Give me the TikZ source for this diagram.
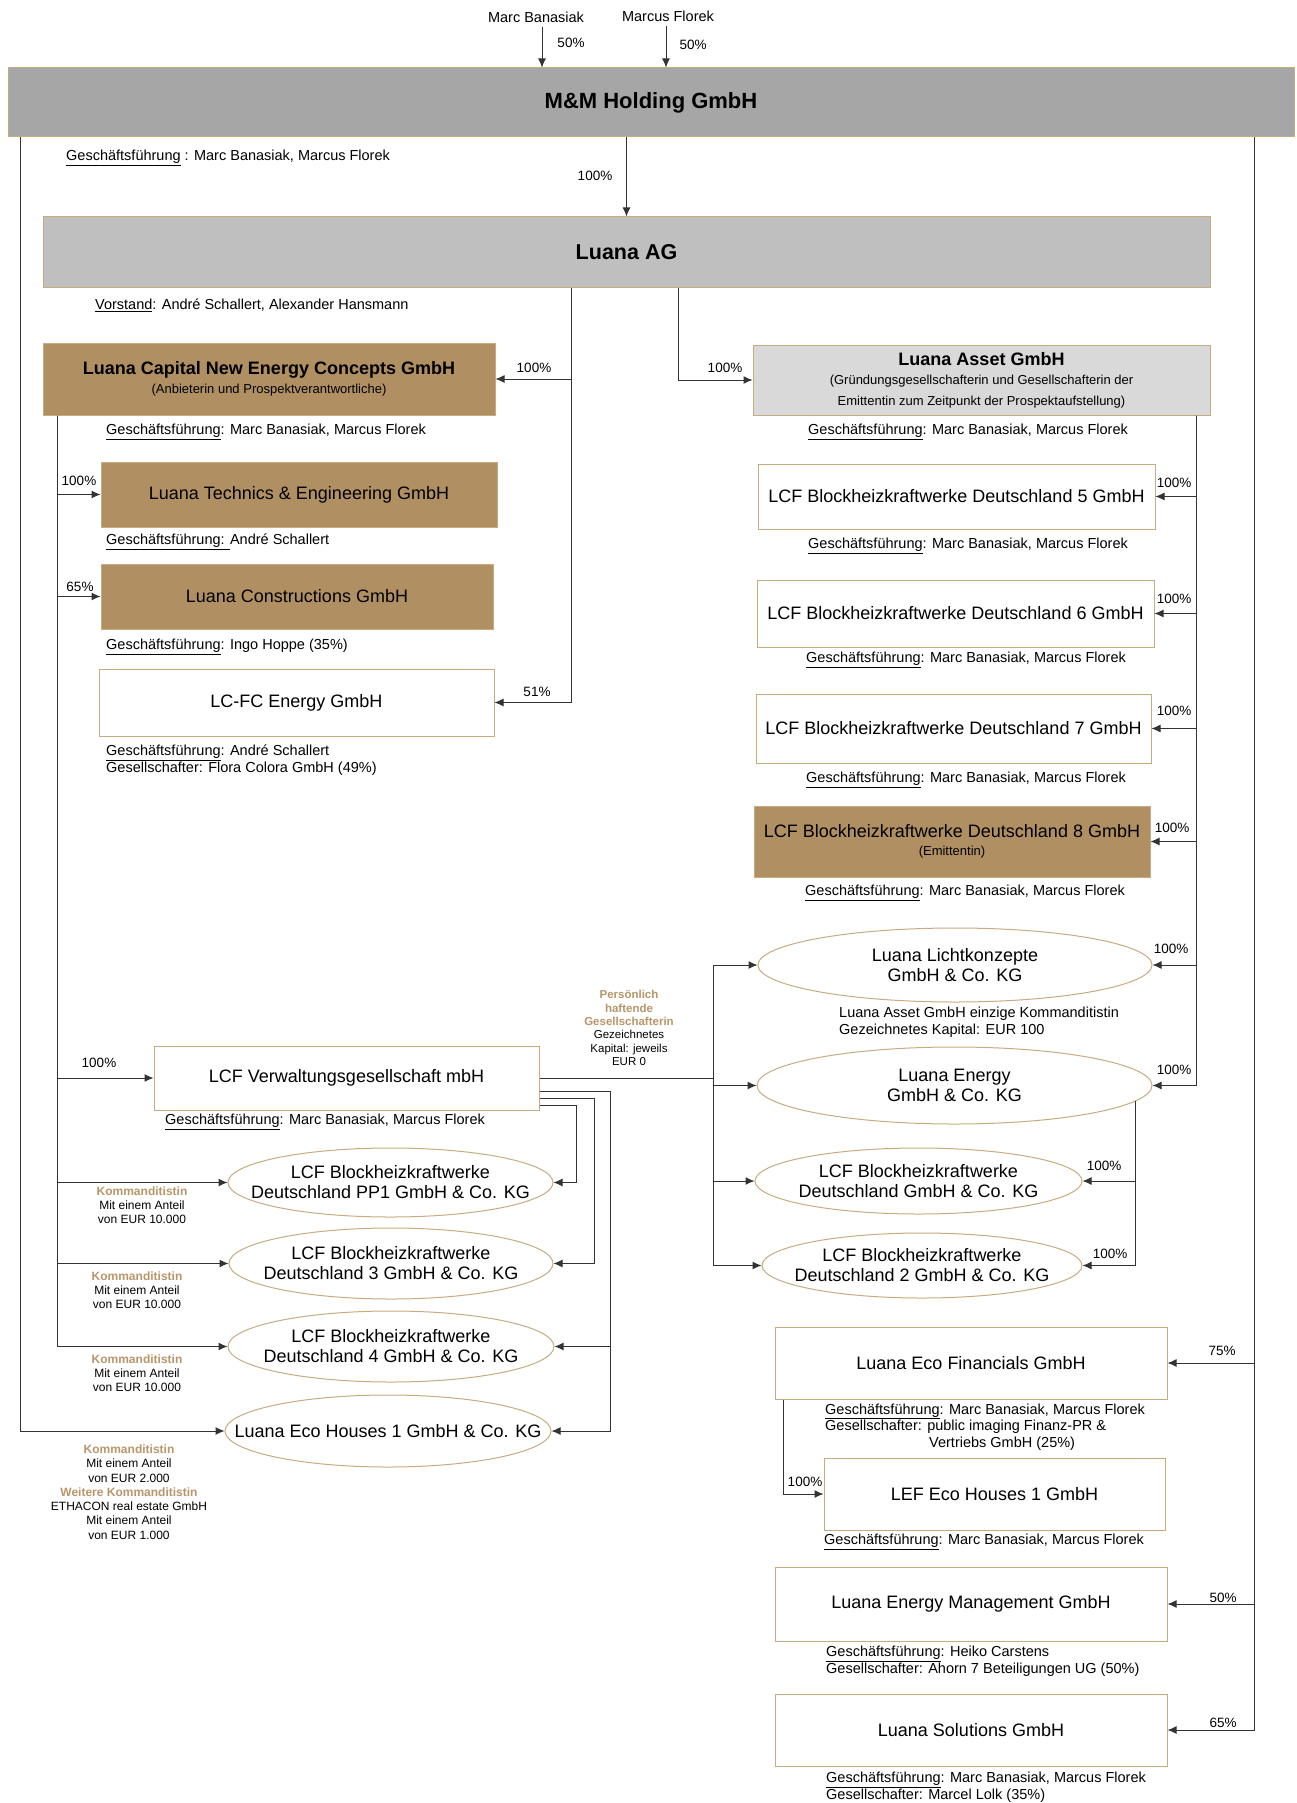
\documentclass[tikz,border=0pt]{standalone}
\usepackage{fontspec}
\setmainfont{Liberation Sans}
\usetikzlibrary{arrows.meta,shapes.geometric}
\definecolor{holdgrey}{HTML}{A6A6A6}
\definecolor{aggrey}{HTML}{BFBFBF}
\definecolor{assetgrey}{HTML}{D9D9D9}
\definecolor{luanabrown}{HTML}{B08F63}
\definecolor{frametan}{HTML}{C9AB80}
\definecolor{komtext}{HTML}{B8966B}
\newcommand{\gf}{\underline{Geschäftsführung}}
\newcommand{\fs}[2]{\fontsize{#1}{#2}\selectfont}
\newcommand{\komm}[1]{\textcolor{komtext}{\textbf{#1}}}

\tikzset{
	firm/.style={draw=frametan, line width=1pt, fill=white, inner sep=2pt, align=center, font=\fs{18}{21}},
	brownfirm/.style={firm, fill=luanabrown},
	kg/.style={draw=frametan, line width=1pt, fill=white, ellipse, inner sep=0pt},
	kgtext/.style={align=center, font=\fs{18}{20}, inner sep=0pt},
	info/.style={anchor=west, inner sep=0pt, align=left, font=\fs{14.5}{16.5}},
	pct/.style={inner sep=0pt, font=\fs{13.5}{15}},
	kommbox/.style={inner sep=0pt, align=center, font=\fs{12}{14.3}},
	link/.style={draw=black!80, line width=1pt},
	arr/.style={link, -{Latex[length=9pt,width=8pt]}},
}

\begin{document}
\begin{tikzpicture}[x=1pt, y=-1pt]
			%%%%% START %%%%%
			\path[use as bounding box, fill=white] (0,0) rectangle (1297,1803);
			
			% top level
			\node[font=\fs{14.5}{16}, inner sep=0pt] (marc) at (536,17) {Marc Banasiak};
			\node[font=\fs{14.5}{16}, inner sep=0pt] (marcus) at (668,16) {Marcus Florek};
			\node[firm, fill=holdgrey, minimum width=1286pt, minimum height=69pt, font=\fs{22}{24}\bfseries] (mm) at (651,102.5) {M\&M Holding GmbH};
			\node[info] (mmgf) at (66,158) {\gf{} : Marc Banasiak, Marcus Florek};
			
			\node[firm, fill=aggrey, minimum width=1167pt, minimum height=70pt, font=\fs{21.5}{24}\bfseries] (ag) at (626.5,252) {Luana AG};
			\node[info] (agvs) at (95,305) {\underline{Vorstand}: André Schallert, Alexander Hansmann};
			
			% left column
			\node[brownfirm, minimum width=452pt, minimum height=72pt] (lcnec) at (269,379) {\textbf{Luana Capital New Energy Concepts GmbH}\\[-2pt]\fs{13}{15}(Anbieterin und Prospektverantwortliche)};
			\node[info] (lcnecgf) at (106,432) {\gf: Marc Banasiak, Marcus Florek};
			
			\node[brownfirm, minimum width=396pt, minimum height=65pt] (lte) at (299,494.5) {Luana Technics \& Engineering GmbH};
			\node[info] (ltegf) at (106,542) {\underline{Geschäftsführung: }André Schallert};
			
			\node[brownfirm, minimum width=392pt, minimum height=65pt] (lc) at (297,596.5) {Luana Constructions GmbH};
			\node[info] (lcgf) at (106,647) {\gf: Ingo Hoppe (35\%)};
			
			\node[firm, minimum width=395pt, minimum height=67pt] (lcfc) at (296.5,702.5) {LC-FC Energy GmbH};
			\node[info] (lcfcgf) at (106,760) {\gf: André Schallert\\Gesellschafter: Flora Colora GmbH (49\%)};
			
			% right column
			\node[firm, fill=assetgrey, minimum width=457pt, minimum height=70pt] (asset) at (981.5,380) {\textbf{Luana Asset GmbH}\\[-2pt]\fs{13}{16}(Gründungsgesellschafterin und Gesellschafterin der\\\fs{13}{16}Emittentin zum Zeitpunkt der Prospektaufstellung)};
			\node[info] (assetgf) at (808,432) {\gf: Marc Banasiak, Marcus Florek};
			
			\node[firm, minimum width=397pt, minimum height=65pt] (bhkw5) at (956.5,496.5) {LCF Blockheizkraftwerke Deutschland 5 GmbH};
			\node[info] (bhkw5gf) at (808,546) {\gf: Marc Banasiak, Marcus Florek};
			
			\node[firm, minimum width=397pt, minimum height=67pt] (bhkw6) at (955.5,613.5) {LCF Blockheizkraftwerke Deutschland 6 GmbH};
			\node[info] (bhkw6gf) at (806,660) {\gf: Marc Banasiak, Marcus Florek};
			
			\node[firm, minimum width=395pt, minimum height=69pt] (bhkw7) at (953.5,728.5) {LCF Blockheizkraftwerke Deutschland 7 GmbH};
			\node[info] (bhkw7gf) at (806,780) {\gf: Marc Banasiak, Marcus Florek};
			
			\node[brownfirm, minimum width=396pt, minimum height=71pt] (bhkw8) at (952,841.5) {LCF Blockheizkraftwerke Deutschland 8 GmbH\\[-3pt]\fs{13}{15}(Emittentin)};
			\node[info] (bhkw8gf) at (805,893) {\gf: Marc Banasiak, Marcus Florek};
			
			% KG companies right
			\node[kg, minimum width=394pt, minimum height=74pt, label={[kgtext]center:Luana Lichtkonzepte\\GmbH \& Co. KG}] (licht) at (955,965) {};
			\node[info] (lichtinfo) at (839,1022) {Luana Asset GmbH einzige Kommanditistin\\Gezeichnetes Kapital: EUR 100};
			\node[kg, minimum width=395pt, minimum height=77pt, label={[kgtext]center:Luana Energy\\GmbH \& Co. KG}] (energy) at (954.5,1085.5) {};
			\node[kg, minimum width=327pt, minimum height=66pt, label={[kgtext]center:LCF Blockheizkraftwerke\\Deutschland GmbH \& Co. KG}] (bhkwkg) at (918.5,1181) {};
			\node[kg, minimum width=320pt, minimum height=65pt, label={[kgtext]center:LCF Blockheizkraftwerke\\Deutschland 2 GmbH \& Co. KG}] (bhkw2) at (922,1265.5) {};
			
			% Verwaltung and KG companies left
			\node[firm, minimum width=385pt, minimum height=64pt] (verw) at (346.5,1078) {LCF Verwaltungsgesellschaft mbH};
			\node[info] (verwgf) at (165,1122) {\gf: Marc Banasiak, Marcus Florek};
			\node[kommbox, font=\fs{11.5}{13.4}] (phg) at (629,1028) {\komm{Persönlich}\\\komm{haftende}\\\komm{Gesellschafterin}\\Gezeichnetes\\Kapital: jeweils\\EUR 0};
			
			\node[kg, minimum width=325pt, minimum height=69pt, label={[kgtext]center:LCF Blockheizkraftwerke\\Deutschland PP1 GmbH \& Co. KG}] (pp1) at (390.5,1182.5) {};
			\node[kg, minimum width=324pt, minimum height=71pt, label={[kgtext]center:LCF Blockheizkraftwerke\\Deutschland 3 GmbH \& Co. KG}] (bhkw3) at (391,1263.5) {};
			\node[kg, minimum width=326pt, minimum height=71pt, label={[kgtext]center:LCF Blockheizkraftwerke\\Deutschland 4 GmbH \& Co. KG}] (bhkw4) at (391,1346.5) {};
			\node[kg, minimum width=326pt, minimum height=72pt, label={[kgtext]center:Luana Eco Houses 1 GmbH \& Co. KG}] (eco1) at (388,1431) {};
			
			\node[kommbox] (komm1) at (142,1205) {\komm{Kommanditistin}\\Mit einem Anteil\\von EUR 10.000};
			\node[kommbox] (komm3) at (137,1290) {\komm{Kommanditistin}\\Mit einem Anteil\\von EUR 10.000};
			\node[kommbox] (komm4) at (137,1373) {\komm{Kommanditistin}\\Mit einem Anteil\\von EUR 10.000};
			\node[kommbox] (kommeco) at (129,1492) {\komm{Kommanditistin}\\Mit einem Anteil\\von EUR 2.000\\\komm{Weitere Kommanditistin}\\ETHACON real estate GmbH\\Mit einem Anteil\\von EUR 1.000};
			
			% lower right
			\node[firm, minimum width=392pt, minimum height=72pt] (ecofin) at (971,1363) {Luana Eco Financials GmbH};
			\node[info] (ecofingf) at (825,1427) {\gf: Marc Banasiak, Marcus Florek\\Gesellschafter: public imaging Finanz-PR \&\\\hspace*{104pt}Vertriebs GmbH (25\%)};
			\node[firm, minimum width=341pt, minimum height=72pt] (lef) at (994.5,1494) {LEF Eco Houses 1 GmbH};
			\node[info] (lefgf) at (824,1542) {\gf: Marc Banasiak, Marcus Florek};
			\node[firm, minimum width=392pt, minimum height=74pt] (em) at (971,1604) {Luana Energy Management GmbH};
			\node[info] (emgf) at (826,1661) {\gf: Heiko Carstens\\Gesellschafter: Ahorn 7 Beteiligungen UG (50\%)};
			\node[firm, minimum width=392pt, minimum height=72pt] (sol) at (971,1730) {Luana Solutions GmbH};
			\node[info] (solgf) at (826,1787) {\gf: Marc Banasiak, Marcus Florek\\Gesellschafter: Marcel Lolk (35\%)};
			
			% shares
			\foreach \n/\x/\y/\t in {mb/571/43/50, mf/693/45/50, ag/595/176/100, lcnec/534/368/100, asset/725/368/100,
				lte/79/481/100, lc/80/587/65, lcfc/537/692/51, b5/1174/483/100, b6/1174/599/100, b7/1174/711/100,
				b8/1172/828/100, licht/1171/949/100, energy/1174/1070/100, bkg/1104/1166/100, b2/1110/1254/100,
				verw/99/1063/100, ecofin/1222/1351/75, lef/805/1482/100, em/1223/1598/50, sol/1223/1723/65}
				\node[pct] (pct\n) at (\x,\y) {\t\%};
			
			% bus columns
			\coordinate (mbcol) at (542,0);
			\coordinate (mfcol) at (666,0);
			\coordinate (agleft) at (571,0);
			\coordinate (agright) at (678,0);
			\coordinate (outerleft) at (20,0);
			\coordinate (innerleft) at (57,0);
			\coordinate (assetcol) at (1196,0);
			\coordinate (outerright) at (1254,0);
			\coordinate (verwcol) at (713,0);
			\coordinate (pp1col) at (576,0);
			\coordinate (b3col) at (594,0);
			\coordinate (b4col) at (610,0);
			\coordinate (ecofincol) at (783,0);
			
			% connectors
			\draw[arr] ([yshift=-4pt]marc.south -| mbcol) -- (mbcol |- mm.north);
			\draw[arr] ([yshift=-4pt]marcus.south -| mfcol) -- (mfcol |- mm.north);
			\draw[arr] (mm.south -| ag.north) -- (ag.north);
			
			\draw[arr] (ag.south -| agleft) |- (lcnec.east);
			\draw[arr] (ag.south -| agleft) |- (lcfc.east);
			\draw[arr] (ag.south -| agright) |- (asset.west);
			
			\foreach \c in {lte,lc,verw,pp1,bhkw3,bhkw4}
				\draw[arr] (lcnec.south -| innerleft) |- (\c.west);
			\draw[arr] (mm.south -| outerleft) |- (eco1.west);
			
			\foreach \c in {bhkw5,bhkw6,bhkw7,bhkw8,licht,energy}
				\draw[arr] (asset.south -| assetcol) |- (\c.east);
			
			\draw[link] (verw.east) -- (verw.east -| verwcol);
			\foreach \c in {licht,energy,bhkwkg,bhkw2}
				\draw[arr] (verw.east -| verwcol) |- (\c.west);
			\draw[arr] ([yshift=5pt]verw.south east) -| (pp1col |- pp1.east) -- (pp1.east);
			\draw[arr] ([yshift=12pt]verw.south east) -| (b3col |- bhkw3.east) -- (bhkw3.east);
			\draw[arr] ([yshift=19pt]verw.south east) -| (b4col |- eco1.east) -- (eco1.east);
			\draw[arr] (b4col |- bhkw4.east) -- (bhkw4.east);
			
			\draw[arr] (energy.-5) |- (bhkwkg.east);
			\draw[arr] (energy.-5) |- (bhkw2.east);
			
			\foreach \c in {ecofin,em,sol}
				\draw[arr] (mm.south -| outerright) |- (\c.east);
			\draw[arr] (ecofin.south -| ecofincol) |- (lef.west);
			
			%%%%% END %%%%%
\end{tikzpicture}
\end{document}
